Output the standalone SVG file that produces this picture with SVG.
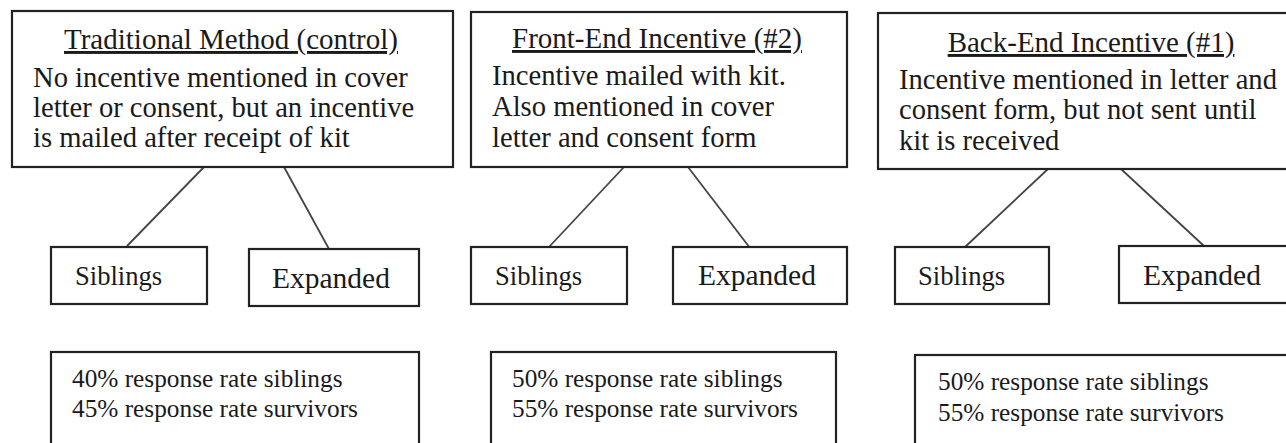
<svg xmlns="http://www.w3.org/2000/svg" width="1286" height="443" viewBox="0 0 1286 443">
<style>
.box{fill:#fff;stroke:#222;stroke-width:2.2}
.conn{stroke:#444;stroke-width:1.8;fill:none}
.t{font-family:"Liberation Serif","Times New Roman",serif;fill:#1a1a1a}
.title{font-size:29px;text-decoration:underline}
.body{font-size:28.6px}
.sib{font-size:26.6px}
.exp{font-size:29.5px}
.res{font-size:25.3px}
</style>
<rect width="1286" height="443" fill="#fff"/>
<g id="connectors">
<line class="conn" x1="204" y1="167" x2="127" y2="246"/>
<line class="conn" x1="284" y1="167" x2="329" y2="249"/>
<line class="conn" x1="624" y1="167" x2="549" y2="247"/>
<line class="conn" x1="688" y1="167" x2="750" y2="248"/>
<line class="conn" x1="1048" y1="169" x2="965" y2="247"/>
<line class="conn" x1="1121" y1="169" x2="1204" y2="246"/>
</g>
<g id="traditional">
<rect class="box" x="12" y="11" width="441" height="156"/>
<text class="t title" x="231" y="49" text-anchor="middle">Traditional Method (control)</text>
<text class="t body" x="33" y="87">No incentive mentioned in cover</text>
<text class="t body" x="33" y="117">letter or consent, but an incentive</text>
<text class="t body" x="33" y="147">is mailed after receipt of kit</text>
</g>
<g id="frontend">
<rect class="box" x="471" y="12" width="376" height="155"/>
<text class="t title" x="657" y="48" text-anchor="middle">Front-End Incentive (#2)</text>
<text class="t body" x="492" y="85">Incentive mailed with kit.</text>
<text class="t body" x="492" y="116">Also mentioned in cover</text>
<text class="t body" x="492" y="147">letter and consent form</text>
</g>
<g id="backend">
<rect class="box" x="878" y="13" width="420" height="156"/>
<text class="t title" x="1091" y="52" text-anchor="middle">Back-End Incentive (#1)</text>
<text class="t body" x="899" y="89">Incentive mentioned in letter and</text>
<text class="t body" x="899" y="119">consent form, but not sent until</text>
<text class="t body" x="899" y="150">kit is received</text>
</g>
<g id="siblings1">
<rect class="box" x="51" y="247" width="156" height="57"/>
<text class="t sib" x="75" y="285">Siblings</text>
</g>
<g id="expanded1">
<rect class="box" x="249" y="249" width="170" height="57"/>
<text class="t exp" x="272" y="288">Expanded</text>
</g>
<g id="siblings2">
<rect class="box" x="471" y="247" width="156" height="57"/>
<text class="t sib" x="495" y="285">Siblings</text>
</g>
<g id="expanded2">
<rect class="box" x="673" y="247" width="174" height="57"/>
<text class="t exp" x="698" y="285">Expanded</text>
</g>
<g id="siblings3">
<rect class="box" x="895" y="247" width="154" height="57"/>
<text class="t sib" x="918" y="285">Siblings</text>
</g>
<g id="expanded3">
<rect class="box" x="1119" y="246" width="180" height="57"/>
<text class="t exp" x="1143" y="285">Expanded</text>
</g>
<g id="results1">
<rect class="box" x="51" y="352" width="368" height="110"/>
<text class="t res" x="72" y="387">40% response rate siblings</text>
<text class="t res" x="72" y="417">45% response rate survivors</text>
</g>
<g id="results2">
<rect class="box" x="491" y="352" width="345" height="110"/>
<text class="t res" x="512" y="387">50% response rate siblings</text>
<text class="t res" x="512" y="417">55% response rate survivors</text>
</g>
<g id="results3">
<rect class="box" x="915" y="355" width="390" height="110"/>
<text class="t res" x="938" y="390">50% response rate siblings</text>
<text class="t res" x="938" y="421">55% response rate survivors</text>
</g>
</svg>
